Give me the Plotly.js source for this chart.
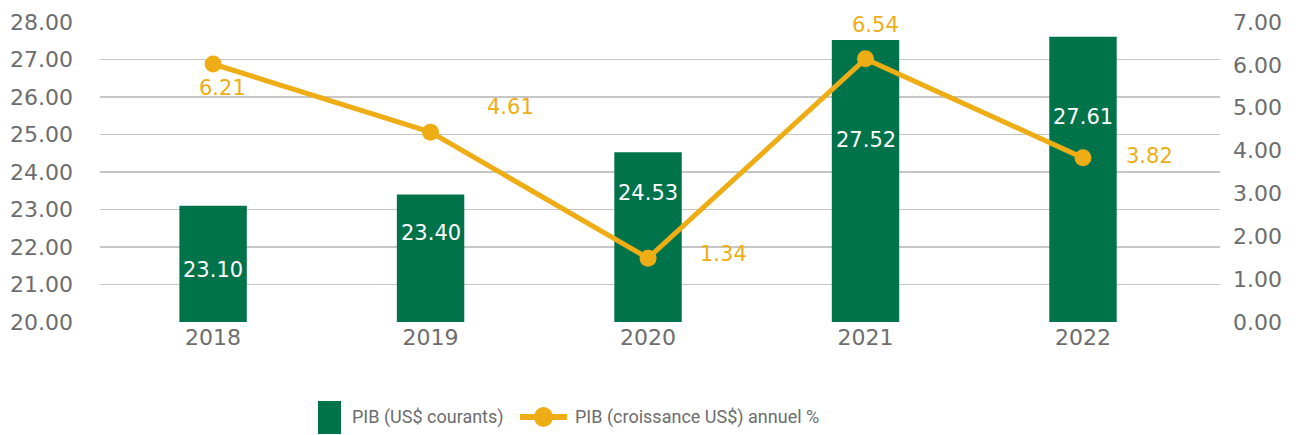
<!DOCTYPE html>
<html>
<head>
<meta charset="utf-8">
<script src="https://cdn.plot.ly/plotly-3.0.1.min.js"></script>
<style>html,body{margin:0;padding:0;background:#fff;}#chart{width:1296px;height:435px;}</style>
</head>
<body>
<div id="chart"></div>
<script>
// ---- data ----
const years = ['2018', '2019', '2020', '2021', '2022'];
const gdpValues = [23.10, 23.40, 24.53, 27.52, 27.61];
const gdpLabels = ['23.10', '23.40', '24.53', '27.52', '27.61'];
const growthValues = [6.02, 4.43, 1.49, 6.14, 3.83];
const growthLabels = ['6.21', '4.61', '1.34', '6.54', '3.82'];
const leftTicks = [20, 21, 22, 23, 24, 25, 26, 27, 28];
const rightTicks = [0, 1, 2, 3, 4, 5, 6, 7];
const seriesNames = ['PIB (US$ courants)', 'PIB (croissance US$) annuel %'];

// ---- styles ----
const GREEN = '#00734A';
const GOLD = '#EEAD14';
const GREY = '#6d6d6d';
const FONT = 'DejaVu Sans, sans-serif';
const LEGFONT = 'Roboto, sans-serif';
const barLabelShift = [-64, -38, -41, -100, -80];
// [xshift, yshift] in pixels (positive yshift = up)
const lineLabelShift = [[9, -24], [80, 25], [75, 4], [10, 34], [67, 2]];

const W = 1296, H = 435, M = {l: 100, r: 76, t: 22, b: 113};
const pw = W - M.l - M.r, ph = H - M.t - M.b;
const px = v => (v - M.l) / pw;      // pixel -> paper x
const py = v => (H - M.b - v) / ph;  // pixel -> paper y

const traces = [
  {
    type: 'bar', name: seriesNames[0], x: years, y: gdpValues,
    marker: {color: GREEN}, width: 0.31, yaxis: 'y', showlegend: false
  },
  {
    type: 'scatter', mode: 'lines+markers', name: seriesNames[1], x: years, y: growthValues,
    yaxis: 'y2', line: {color: GOLD, width: 5}, marker: {color: GOLD, size: 17}, showlegend: false
  }
];

const annotations = [];
years.forEach((yr, i) => {
  annotations.push({
    x: i, y: gdpValues[i], xref: 'x', yref: 'y', text: gdpLabels[i], showarrow: false,
    yshift: barLabelShift[i], yanchor: 'middle', font: {family: FONT, size: 21, color: '#ffffff'}
  });
  annotations.push({
    x: i, y: growthValues[i], xref: 'x', yref: 'y2', text: growthLabels[i], showarrow: false,
    xshift: lineLabelShift[i][0], yshift: lineLabelShift[i][1], yanchor: 'middle',
    font: {family: FONT, size: 21, color: GOLD}
  });
});

// manual legend (reference uses a tall swatch)
const legY = 417;
annotations.push({
  xref: 'paper', yref: 'paper', x: px(350), y: py(legY), xanchor: 'left', yanchor: 'middle',
  text: seriesNames[0], showarrow: false, font: {family: LEGFONT, size: 18, color: GREY}
});
annotations.push({
  xref: 'paper', yref: 'paper', x: px(573), y: py(legY), xanchor: 'left', yanchor: 'middle',
  text: seriesNames[1], showarrow: false, font: {family: LEGFONT, size: 18, color: GREY}
});
const shapes = [
  {type: 'rect', xref: 'paper', yref: 'paper', x0: px(318), x1: px(341), y0: py(434), y1: py(401),
   fillcolor: GREEN, line: {width: 0}},
  {type: 'line', xref: 'paper', yref: 'paper', x0: px(520), x1: px(567), y0: py(legY), y1: py(legY),
   line: {color: GOLD, width: 6}},
  {type: 'circle', xref: 'paper', yref: 'paper', x0: px(534), x1: px(553), y0: py(legY + 10), y1: py(legY - 10),
   fillcolor: GOLD, line: {width: 0}}
];

const layout = {
  width: W, height: H,
  margin: {l: M.l, r: M.r, t: M.t, b: M.b, autoexpand: false},
  paper_bgcolor: '#ffffff', plot_bgcolor: '#ffffff',
  font: {family: FONT, color: GREY},
  showlegend: false,
  xaxis: {
    type: 'category', range: [-0.52, 4.63], showgrid: false, zeroline: false,
    showline: false, ticks: '', tickfont: {family: FONT, size: 22, color: GREY}
  },
  yaxis: {
    range: [20, 28], tickvals: leftTicks, ticktext: leftTicks.map(v => v.toFixed(2)),
    showgrid: true, gridcolor: '#c6c6c6', gridwidth: 1.5, zeroline: false, showline: false,
    ticks: '', ticklabelstandoff: 26, tickfont: {family: FONT, size: 22, color: GREY}
  },
  yaxis2: {
    range: [0, 7], overlaying: 'y', side: 'right', tickvals: rightTicks,
    ticktext: rightTicks.map(v => v.toFixed(2)), showgrid: false, zeroline: false, showline: false,
    ticks: '', ticklabelstandoff: 12, tickfont: {family: FONT, size: 22, color: GREY}
  },
  annotations: annotations,
  shapes: shapes
};

Plotly.newPlot('chart', traces, layout, {displayModeBar: false, staticPlot: true});
</script>
</body>
</html>
